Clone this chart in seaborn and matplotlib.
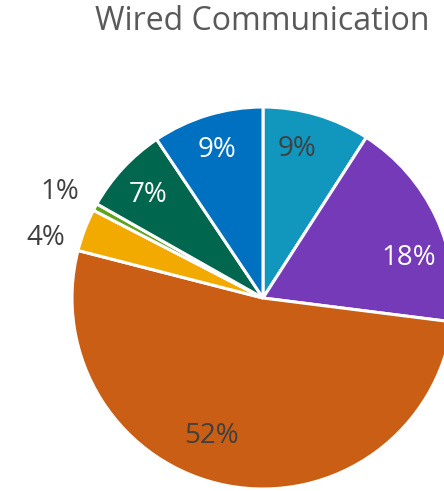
import numpy as np
import matplotlib
matplotlib.use("Agg")
import matplotlib.pyplot as plt
import seaborn as sns

sns.set_theme(style="white")
plt.rcParams['font.family'] = ['Open Sans', 'DejaVu Sans']

# Data (clockwise from 12 o'clock)
categories = ["A", "B", "C", "D", "E", "F", "G"]
values = [9.1, 17.9, 52.0, 3.6, 0.6, 7.4, 9.4]
colors = ["#1196BE", "#743AB8", "#C95E14", "#F2AA00", "#5FA41C", "#00664D", "#0070C0"]
label_colors = ["#404040", "white", "#404040", "#404040", "#404040", "white", "white"]
title = "Wired Communication"

# label placement tweaks (angle shift in degrees clockwise, radius)
label_shift = [-3.5, 9.5, 9.5, -5.5, -1.0, -1.0, -0.5]
label_radius = [0.80, 0.79, 0.77, 1.18, 1.20, 0.81, 0.81]

fig = plt.figure(figsize=(4.44, 4.91), dpi=100)
ax = fig.add_axes([0, 0, 1, 1])

wedges, texts, autotexts = ax.pie(
    values, colors=colors, startangle=90, counterclock=False,
    autopct='%.0f%%', pctdistance=0.8,
    wedgeprops=dict(edgecolor='white', linewidth=2.2),
    textprops=dict(fontsize=20),
)
total = sum(values)
cum = 0
for i, v in enumerate(values):
    mid = cum + v / 2
    cum += v
    ang = np.deg2rad(90 - mid / total * 360 - label_shift[i])
    r = label_radius[i]
    autotexts[i].set_position((r * np.cos(ang), r * np.sin(ang)))
    autotexts[i].set_color(label_colors[i])

ax.set_xlim(-263 / 191, 181 / 191)
ax.set_ylim(-193 / 191, 298 / 191)
ax.set_aspect('equal')
ax.axis('off')

fig.text(262 / 444, 1 - 22 / 491, title, ha='center', va='center',
         fontsize=23, color='#595959')

fig.savefig("out.png", dpi=100, facecolor='white')
